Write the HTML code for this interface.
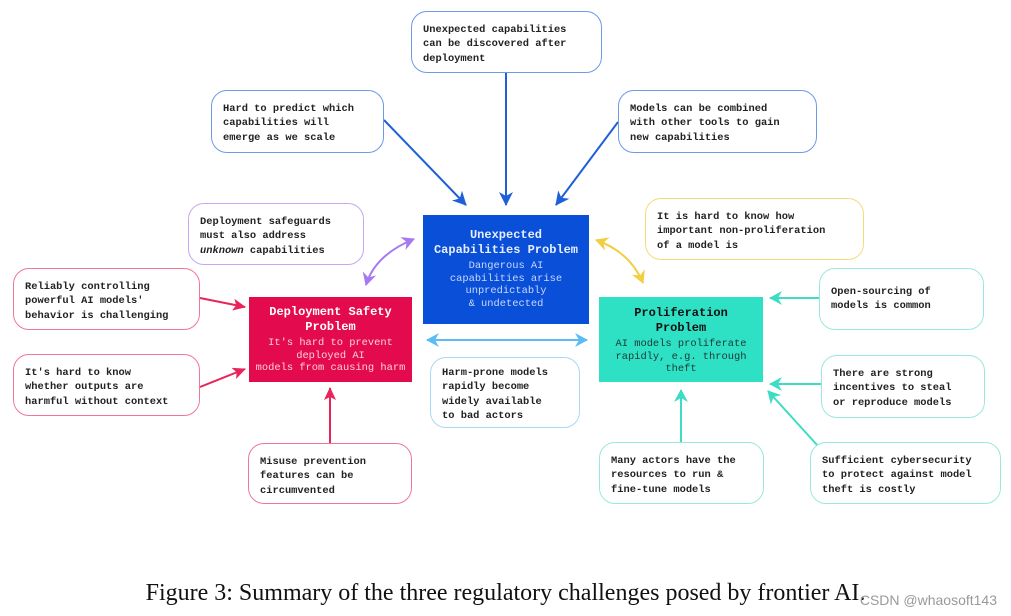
<!DOCTYPE html>
<html><head><meta charset="utf-8"><style>
body{margin:0;width:1011px;height:616px;background:#fff;position:relative;overflow:hidden;font-family:"Liberation Mono","DejaVu Sans Mono",monospace;}
.b{position:absolute;box-sizing:border-box;border:1.5px solid;border-radius:16px;background:#fff;font-size:10.4px;font-weight:bold;line-height:14.4px;color:#222;padding:11px 10px 6px 11px;white-space:pre;}
.m{position:absolute;box-sizing:border-box;text-align:center;white-space:pre;font-size:10.4px;line-height:12.5px;}
.m .t{font-size:12px;font-weight:bold;line-height:15px;display:block;margin-bottom:2px;}
svg{position:absolute;left:0;top:0;}
.cap{position:absolute;left:0;width:1011px;top:580px;text-align:center;font-family:"Liberation Serif",serif;font-size:24px;color:#111;}
.wm{position:absolute;right:14px;top:592px;font-family:"Liberation Sans",sans-serif;font-size:14px;color:#999;}
</style></head><body>
<svg width="1011" height="616">
<defs>
<marker id="ab" markerWidth="16" markerHeight="16" refX="13" refY="7" orient="auto-start-reverse" markerUnits="userSpaceOnUse"><path d="M0,0 L14,7 L0,14 L4,7z" fill="#1f5fd8"/></marker>
<marker id="ar" markerWidth="16" markerHeight="16" refX="12" refY="6" orient="auto-start-reverse" markerUnits="userSpaceOnUse"><path d="M0,0 L13,6 L0,12 L3,6z" fill="#e8245a"/></marker>
<marker id="at" markerWidth="16" markerHeight="16" refX="12" refY="7" orient="auto-start-reverse" markerUnits="userSpaceOnUse"><path d="M0,0 L13,7 L0,14 L4,7z" fill="#3ddcc4"/></marker>
<marker id="ap" markerWidth="16" markerHeight="16" refX="12" refY="7" orient="auto-start-reverse" markerUnits="userSpaceOnUse"><path d="M0,0 L13,7 L0,14 L4,7z" fill="#a779f0"/></marker>
<marker id="ay" markerWidth="16" markerHeight="16" refX="12" refY="7" orient="auto-start-reverse" markerUnits="userSpaceOnUse"><path d="M0,0 L13,7 L0,14 L4,7z" fill="#f0d040"/></marker>
<marker id="al" markerWidth="16" markerHeight="16" refX="12" refY="7" orient="auto-start-reverse" markerUnits="userSpaceOnUse"><path d="M0,0 L13,7 L0,14 L4,7z" fill="#5bbcf5"/></marker>
</defs>
<g stroke-width="2" fill="none">
<line x1="384" y1="120" x2="466" y2="205" stroke="#1f5fd8" marker-end="url(#ab)"/>
<line x1="506" y1="73" x2="506" y2="205" stroke="#1f5fd8" marker-end="url(#ab)"/>
<line x1="618" y1="122" x2="556" y2="205" stroke="#1f5fd8" marker-end="url(#ab)"/>
<path d="M414,239 Q375,255 366,285" stroke="#a779f0" marker-start="url(#ap)" marker-end="url(#ap)"/>
<path d="M596,240 Q630,252 643,283" stroke="#f0d040" marker-start="url(#ay)" marker-end="url(#ay)"/>
<line x1="427" y1="340" x2="587" y2="340" stroke="#5bbcf5" marker-start="url(#al)" marker-end="url(#al)"/>
<line x1="200" y1="298" x2="245" y2="307" stroke="#e8245a" marker-end="url(#ar)"/>
<line x1="200" y1="387" x2="245" y2="369" stroke="#e8245a" marker-end="url(#ar)"/>
<line x1="330" y1="443" x2="330" y2="388" stroke="#e8245a" marker-end="url(#ar)"/>
<line x1="819" y1="298" x2="770" y2="298" stroke="#3ddcc4" marker-end="url(#at)"/>
<line x1="821" y1="384" x2="770" y2="384" stroke="#3ddcc4" marker-end="url(#at)"/>
<line x1="818" y1="446" x2="768" y2="391" stroke="#3ddcc4" marker-end="url(#at)"/>
<line x1="681" y1="442" x2="681" y2="390" stroke="#3ddcc4" marker-end="url(#at)"/>
</g>
</svg>
<div class="b" style="left:411px;top:11px;width:191px;height:62px;border-color:#6b9be8">Unexpected capabilities
can be discovered after
deployment</div>
<div class="b" style="left:211px;top:90px;width:173px;height:63px;border-color:#6b9be8">Hard to predict which
capabilities will
emerge as we scale</div>
<div class="b" style="left:618px;top:90px;width:199px;height:63px;border-color:#6b9be8">Models can be combined
with other tools to gain
new capabilities</div>
<div class="b" style="left:188px;top:203px;width:176px;height:62px;border-color:#c6a8f2">Deployment safeguards
must also address
<i>unknown</i> capabilities</div>
<div class="b" style="left:645px;top:198px;width:219px;height:62px;border-color:#f2dc7a">It is hard to know how
important non-proliferation
of a model is</div>
<div class="b" style="left:13px;top:268px;width:187px;height:62px;border-color:#ef7896">Reliably controlling
powerful AI models'
behavior is challenging</div>
<div class="b" style="left:13px;top:354px;width:187px;height:62px;border-color:#ef7896">It's hard to know
whether outputs are
harmful without context</div>
<div class="b" style="left:248px;top:443px;width:164px;height:61px;border-color:#ef7896">Misuse prevention
features can be
circumvented</div>
<div class="b" style="left:430px;top:357px;width:150px;height:71px;border-color:#a8d8f8;padding-top:8px">Harm-prone models
rapidly become
widely available
to bad actors</div>
<div class="b" style="left:819px;top:268px;width:165px;height:62px;border-color:#9ae8dc;padding-top:16px">Open-sourcing of
models is common</div>
<div class="b" style="left:821px;top:355px;width:164px;height:63px;border-color:#9ae8dc">There are strong
incentives to steal
or reproduce models</div>
<div class="b" style="left:599px;top:442px;width:165px;height:62px;border-color:#9ae8dc">Many actors have the
resources to run &amp;
fine-tune models</div>
<div class="b" style="left:810px;top:442px;width:191px;height:62px;border-color:#9ae8dc">Sufficient cybersecurity
to protect against model
theft is costly</div>
<div class="m" style="left:423px;top:215px;width:166px;height:109px;background:#0a4fd8;color:#c8d8ff;padding-top:13px"><span class="t" style="color:#e8efff">Unexpected
Capabilities Problem</span>Dangerous AI
capabilities arise
unpredictably
&amp; undetected</div>
<div class="m" style="left:249px;top:297px;width:163px;height:85px;background:#e30b4d;color:#ffd0dc;padding-top:8px"><span class="t" style="color:#fff">Deployment Safety
Problem</span>It's hard to prevent
deployed AI
models from causing harm</div>
<div class="m" style="left:599px;top:297px;width:164px;height:85px;background:#2ee0c4;color:#1a3a35;padding-top:9px"><span class="t" style="color:#111">Proliferation
Problem</span>AI models proliferate
rapidly, e.g. through
theft</div>
<div class="cap">Figure 3: Summary of the three regulatory challenges posed by frontier AI.</div>
<div class="wm">CSDN @whaosoft143</div>
</body></html>
